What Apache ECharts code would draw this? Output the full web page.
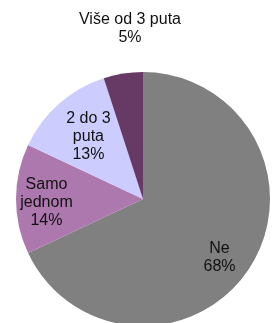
<!DOCTYPE html>
<html>
<head>
<meta charset="utf-8">
<script src="https://cdn.jsdelivr.net/npm/echarts@6/dist/echarts.min.js"></script>
<style>
  html, body { margin: 0; padding: 0; background: #fff; }
  #chart { width: 272px; height: 323px; }
</style>
</head>
<body>
<div id="chart"></div>
<script>
const labels = ["Ne", "Samo\njednom", "2 do 3\nputa", "Više od 3 puta"];
const values = [68, 14, 13, 5];
const colors = ["#808080", "#ad78ad", "#ccccff", "#673a66"];

const cx = 143;
const cy = 199;
const radius = 127;
// how far out along the slice the label sits (fraction of radius)
const labelDist = [0.76, 0.76, 0.65, 1.36];
// small nudges so labels sit where the original put them
const labelShift = [[-5, 7], [0, 4], [0, 0], [14, 0]];

const chart = echarts.init(document.getElementById("chart"));

const total = values.reduce((a, b) => a + b, 0);
const midAngles = [];
let acc = 0;
values.forEach((v) => {
  const mid = 90 - (acc + v / 2) / total * 360;
  midAngles.push((mid * Math.PI) / 180);
  acc += v;
});

chart.setOption({
  animation: false,
  series: [
    {
      type: "pie",
      center: [cx, cy],
      radius: radius,
      startAngle: 90,
      clockwise: true,
      data: labels.map((name, i) => ({
        name,
        value: values[i],
        itemStyle: { color: colors[i] },
      })),
      label: {
        show: true,
        position: "inside",
        formatter: (p) => p.name + "\n" + p.value + "%",
        fontFamily: "Liberation Sans, Arial, sans-serif",
        fontSize: 16,
        lineHeight: 18,
        color: "#111",
        align: "center",
      },
      labelLine: { show: false },
      labelLayout: (p) => {
        const i = p.dataIndex;
        const d = labelDist[i] * radius;
        const x = cx + d * Math.cos(midAngles[i]) + labelShift[i][0];
        const y = cy - d * Math.sin(midAngles[i]) + labelShift[i][1];
        return { x, y, align: "center", verticalAlign: "middle" };
      },
      emphasis: { disabled: true },
    },
  ],
});
</script>
</body>
</html>
